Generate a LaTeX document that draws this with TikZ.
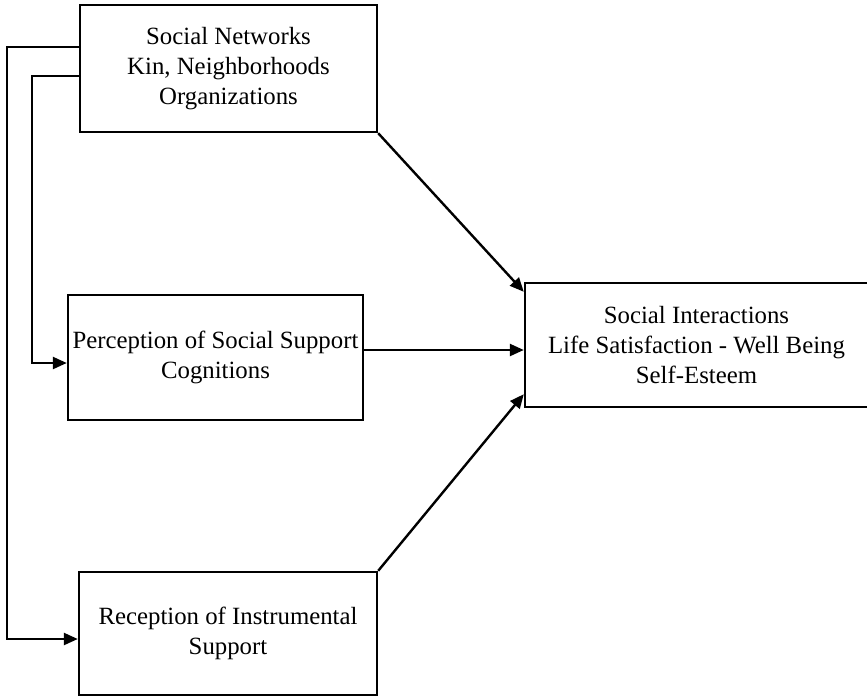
\documentclass[tikz,border=0pt]{standalone}
\usepackage{fontspec}
\setmainfont{Liberation Serif}
\usetikzlibrary{positioning, arrows.meta, calc}

\begin{document}
\begin{tikzpicture}[x=0.5pt, y=-0.5pt, font=\fontsize{12.4}{15}\selectfont,
  box/.style={draw, line width=1.2pt, align=center, inner sep=0pt},
  link/.style={line width=1.2pt, -{Triangle[length=7pt, width=6pt]}}]

\useasboundingbox (0,0) rectangle (867,696);
\clip (0,0) rectangle (867,696);

% ===== boxes =====
\node[box, minimum width=148.5pt, minimum height=63.5pt] (net) at (228.5,68.5)
  {Social Networks\\Kin, Neighborhoods\\Organizations};
\node[box, minimum width=147.5pt, minimum height=62.5pt] (perc) at (215.5,357.5)
  {Perception of Social Support\\Cognitions};
\node[box, minimum width=149pt, minimum height=61.5pt] (recep) at (228,633.5)
  {Reception of Instrumental\\Support};
\node[box, minimum width=171.5pt, minimum height=62pt] (out) at (696.5,345)
  {Social Interactions\\Life Satisfaction - Well Being\\Self-Esteem};

% ===== feedback lines on the left =====
\draw[link] ([yshift=10.75pt]net.west) -- ++(-72,0) |- ([yshift=-2.75pt]recep.west);
\draw[link] ([yshift=-3.75pt]net.west) -- ++(-47,0) |- ([yshift=-2.75pt]perc.west);

% ===== paths into the outcome box =====
\coordinate (percout) at ([yshift=3.75pt]perc.east);
\draw[link] (net.south east) -- ([yshift=-5pt]out.north west);
\draw[link] (percout) -- (percout -| out.west);
\draw[link] (recep.north east) -- ([yshift=7pt]out.south west);

\end{tikzpicture}
\end{document}
